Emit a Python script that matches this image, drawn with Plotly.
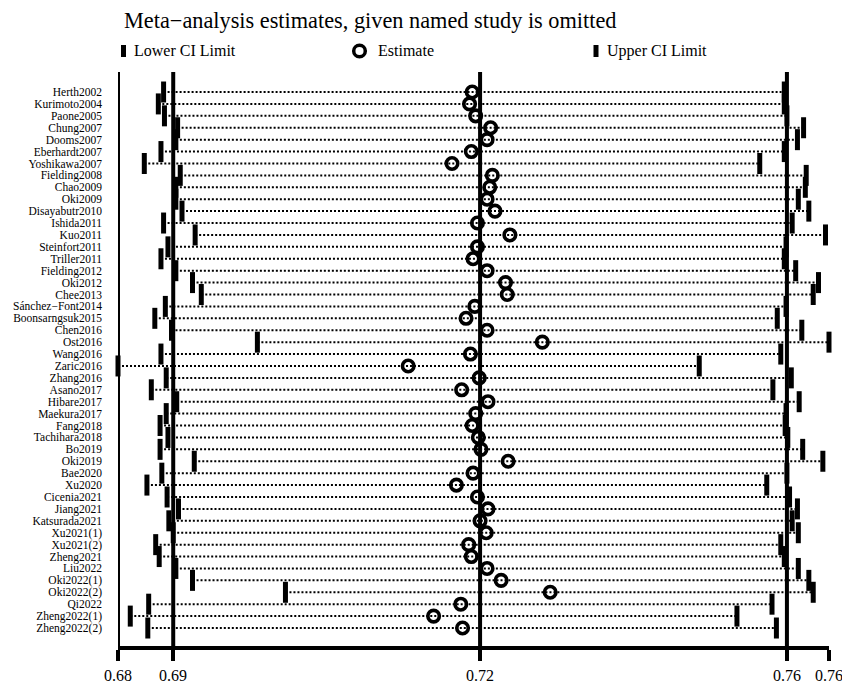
import plotly.graph_objects as go

# ---------------- data ----------------
studies = [
    "Herth2002", "Kurimoto2004", "Paone2005", "Chung2007", "Dooms2007",
    "Eberhardt2007", "Yoshikawa2007", "Fielding2008", "Chao2009", "Oki2009",
    "Disayabutr2010", "Ishida2011", "Kuo2011", "Steinfort2011", "Triller2011",
    "Fielding2012", "Oki2012", "Chee2013", "Sánchez−Font2014", "Boonsarngsuk2015",
    "Chen2016", "Ost2016", "Wang2016", "Zaric2016", "Zhang2016",
    "Asano2017", "Hibare2017", "Maekura2017", "Fang2018", "Tachihara2018",
    "Bo2019", "Oki2019", "Bae2020", "Xu2020", "Cicenia2021",
    "Jiang2021", "Katsurada2021", "Xu2021(1)", "Xu2021(2)", "Zheng2021",
    "Liu2022", "Oki2022(1)", "Oki2022(2)", "Qi2022", "Zheng2022(1)",
    "Zheng2022(2)",
]

estimate = [
    0.7211, 0.7208, 0.7215, 0.7232, 0.7228,
    0.7210, 0.7188, 0.7234, 0.7231, 0.7228,
    0.7237, 0.7217, 0.7254, 0.7217, 0.7212,
    0.7228, 0.7249, 0.7251, 0.7214, 0.7204,
    0.7228, 0.7291, 0.7209, 0.7138, 0.7219,
    0.7199, 0.7229, 0.7215, 0.7211, 0.7218,
    0.7221, 0.7252, 0.7212, 0.7193, 0.7217,
    0.7229, 0.7220, 0.7227, 0.7207, 0.7210,
    0.7228, 0.7244, 0.7300, 0.7198, 0.7167,
    0.7200,
]

lower = [
    0.6859, 0.6853, 0.6860, 0.6875, 0.6873,
    0.6856, 0.6837, 0.6878, 0.6873, 0.6873,
    0.6880, 0.6859, 0.6895, 0.6864, 0.6856,
    0.6873, 0.6892, 0.6902, 0.6861, 0.6849,
    0.6868, 0.6966, 0.6856, 0.6807, 0.6862,
    0.6845, 0.6874, 0.6862, 0.6855, 0.6864,
    0.6855, 0.6894, 0.6857, 0.6840, 0.6863,
    0.6876, 0.6865, 0.6870, 0.6850, 0.6854,
    0.6873, 0.6892, 0.6998, 0.6842, 0.6821,
    0.6841,
]

upper = [
    0.7567, 0.7567, 0.7570, 0.7589, 0.7582,
    0.7567, 0.7539, 0.7592, 0.7591, 0.7583,
    0.7595, 0.7576, 0.7614, 0.7569, 0.7567,
    0.7580, 0.7606, 0.7600, 0.7569, 0.7559,
    0.7587, 0.7618, 0.7563, 0.7470, 0.7575,
    0.7554, 0.7584, 0.7569, 0.7568, 0.7571,
    0.7588, 0.7611, 0.7570, 0.7547, 0.7573,
    0.7582, 0.7576, 0.7583, 0.7563, 0.7567,
    0.7583, 0.7595, 0.7600, 0.7553, 0.7513,
    0.7558,
]

# pooled (all studies) estimate and CI
pooled = [0.687, 0.722, 0.757]

tick_text = ["0.68", "0.69", "0.72", "0.76", "0.76"]

title_text = "Meta−analysis estimates, given named study is omitted"
legend_labels = ["Lower CI Limit", "Estimate", "Upper CI Limit"]

# ---------------- layout geometry ----------------
W, H = 842, 687
L_M, R_M, T_M, B_M = 118, 13, 72, 41
PW, PH = W - L_M - R_M, H - T_M - B_M
FONT = "Liberation Serif"

x_min, x_max = min(lower), max(upper)
tick_vals = [x_min] + pooled + [x_max]
n = len(studies)


def px2paper_x(px):
    return (px - L_M) / PW


def px2paper_y(py):
    return (H - B_M - py) / PH


fig = go.Figure()

# dotted lines lower -> upper
seg_x, seg_y = [], []
for s, lo, up in zip(studies, lower, upper):
    seg_x += [lo, up, None]
    seg_y += [s, s, None]
fig.add_trace(go.Scatter(
    x=seg_x, y=seg_y, mode="lines",
    line=dict(color="black", width=2, dash="2px,2px"),
    hoverinfo="skip", showlegend=False, cliponaxis=False,
))

bar_marker = dict(symbol="line-ns", size=15, color="black",
                  line=dict(color="black", width=5))
fig.add_trace(go.Scatter(x=lower, y=studies, mode="markers", marker=bar_marker,
                         name=legend_labels[0], showlegend=False, cliponaxis=False))
fig.add_trace(go.Scatter(x=upper, y=studies, mode="markers", marker=bar_marker,
                         name=legend_labels[2], showlegend=False, cliponaxis=False))
fig.add_trace(go.Scatter(
    x=estimate, y=studies, mode="markers",
    marker=dict(symbol="circle-open", size=11.5, color="black",
                line=dict(color="black", width=3.6)),
    name=legend_labels[1], showlegend=False, cliponaxis=False,
))

shapes = []
# vertical reference lines (min lower, pooled lower, estimate, upper)
for v in [x_min] + pooled:
    shapes.append(dict(type="line", xref="x", yref="paper", x0=v, x1=v, y0=0, y1=1,
                       line=dict(color="black", width=4), layer="below"))

# manual legend
legend_y = 51
for cx in (123.5, 596):
    shapes.append(dict(type="rect", xref="paper", yref="paper",
                       x0=px2paper_x(cx - 2.5), x1=px2paper_x(cx + 2.5),
                       y0=px2paper_y(legend_y + 6), y1=px2paper_y(legend_y - 6),
                       fillcolor="black", line=dict(width=0)))
cx, r = 359.5, 5.8
shapes.append(dict(type="circle", xref="paper", yref="paper",
                   x0=px2paper_x(cx - r), x1=px2paper_x(cx + r),
                   y0=px2paper_y(legend_y + r), y1=px2paper_y(legend_y - r),
                   line=dict(color="black", width=3.5)))

annotations = []
for tx, label in zip((132, 376, 605), legend_labels):
    annotations.append(dict(text=label, xref="paper", yref="paper",
                            x=px2paper_x(tx), y=px2paper_y(legend_y),
                            xanchor="left", yanchor="middle", showarrow=False,
                            font=dict(family=FONT, size=16, color="black")))

# x-axis tick labels (placed as text under the ticks)
for tv, tt in zip(tick_vals, tick_text):
    annotations.append(dict(text=tt, xref="x", yref="paper", x=tv,
                            y=px2paper_y(675), xanchor="center", yanchor="middle",
                            showarrow=False,
                            font=dict(family=FONT, size=16, color="black")))

fig.update_layout(
    width=W, height=H, autosize=False,
    margin=dict(l=L_M, r=R_M, t=T_M, b=B_M, pad=0, autoexpand=False),
    paper_bgcolor="white", plot_bgcolor="white",
    title=dict(text=title_text, x=124 / W, xanchor="left", y=1 - 20 / H,
               yanchor="middle", xref="container", yref="container",
               font=dict(family=FONT, size=22.3, color="black")),
    shapes=shapes, annotations=annotations,
    showlegend=False,
    xaxis=dict(range=[x_min, x_max], tickmode="array", tickvals=tick_vals,
               ticktext=tick_text, showticklabels=False, automargin=False,
               ticks="outside", ticklen=11, tickwidth=4, tickcolor="black",
               showline=True, linewidth=4, linecolor="black",
               showgrid=False, zeroline=False),
    yaxis=dict(type="category", categoryorder="array", categoryarray=studies,
               tickmode="array", tickvals=studies, ticktext=studies,
               automargin=False,
               range=[n - 1 + 1.51, -1.68], showline=False, ticks="",
               showgrid=False, zeroline=False, ticklabelstandoff=15,
               tickfont=dict(family=FONT, size=11.5, color="black")),
    font=dict(family=FONT, color="black"),
)

fig.write_html("out.html")
